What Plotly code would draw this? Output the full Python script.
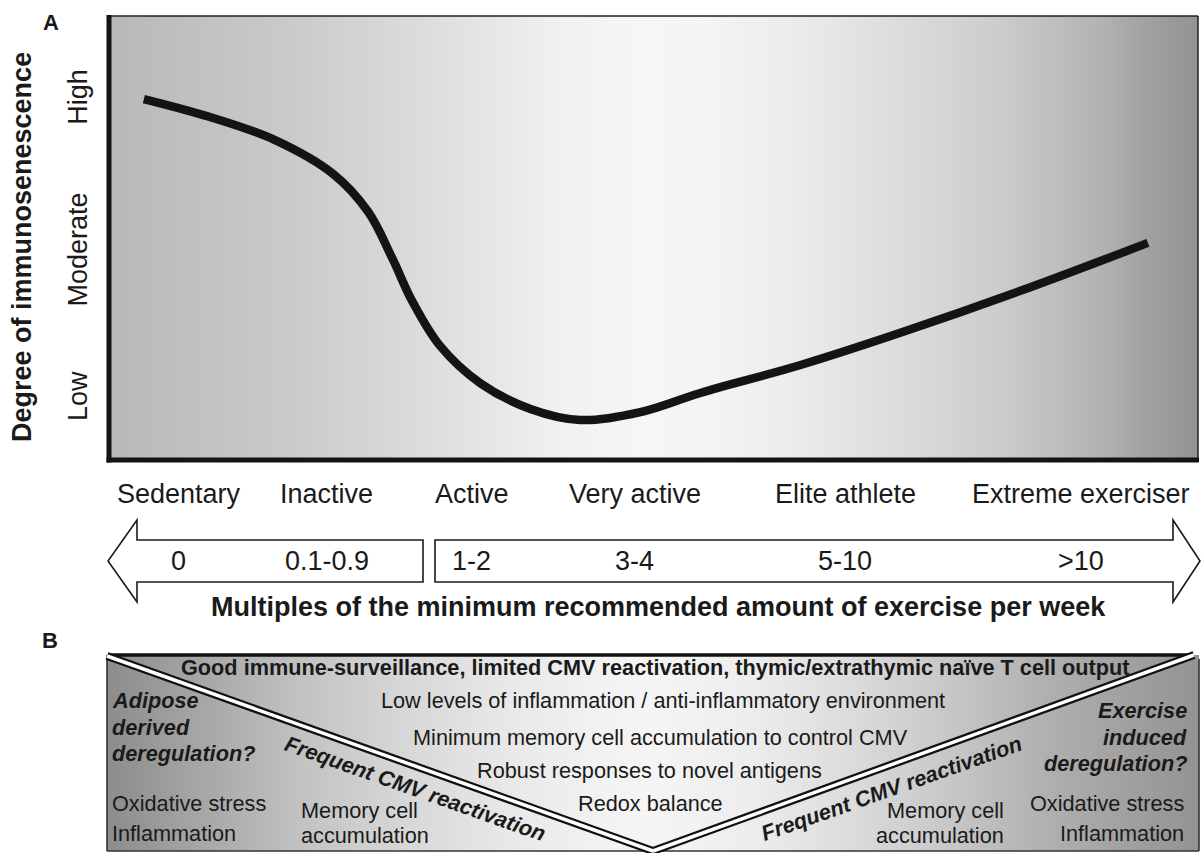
import plotly.graph_objects as go

W, H = 1202, 853

# ---------------- data ----------------
activity_levels = ["Sedentary", "Inactive", "Active", "Very active", "Elite athlete", "Extreme exerciser"]
exercise_multiples = ["0", "0.1-0.9", "1-2", "3-4", "5-10", ">10"]
activity_x = [6.4, 20.0, 33.3, 48.3, 67.6, 89.3]

senescence_labels = ["Low", "Moderate", "High"]
senescence_vals = [14.4, 47.4, 81.8]

curve_x = [3.2, 9.2, 15.2, 20.6, 23.8, 26.0, 27.8, 30.4, 34.1, 38.7, 43.3, 48.8, 54.3, 63.5, 72.6, 83.7, 95.4]
curve_y = [81.3, 77.3, 72.1, 64.4, 55.9, 45.5, 36.0, 25.7, 17.3, 11.5, 9.0, 10.8, 15.1, 21.4, 28.6, 38.1, 48.9]

b_header = "Good immune-surveillance, limited CMV reactivation, thymic/extrathymic naïve T cell output"
b_center_lines = ["Low levels of inflammation / anti-inflammatory environment",
                  "Minimum memory cell accumulation to control CMV",
                  "Robust responses to novel antigens",
                  "Redox balance"]
b_left_question = ["Adipose", "derived", "deregulation?"]
b_right_question = ["Exercise", "induced", "deregulation?"]
b_effects = ["Oxidative stress", "Inflammation"]
b_memory = ["Memory cell", "accumulation"]
b_reactivation = "Frequent CMV reactivation"

FONT = "Liberation Sans, Arial, sans-serif"
FA = 27      # panel A text size
FB = 21.7    # panel B text size

# ---------------- layout geometry (pixels) ----------------
AX0, AX1 = 109, 1198      # panel A box x
AY0, AY1 = 16, 460        # panel A box y (top, bottom)
BX0, BX1 = 107, 1199
BY0, BY1 = 655, 851
VX, VY = 653, 851

fig = go.Figure()

# panel A gradient background (data axes)
fig.add_trace(go.Scatter(
    x=[0, 100, 100, 0, 0], y=[0, 0, 100, 100, 0], mode="lines", fill="toself",
    line=dict(width=0, color="rgba(0,0,0,0)"),
    fillgradient=dict(type="horizontal", colorscale=[
        [0.0, "#b8b8b8"], [0.175, "#cbcbcb"], [0.313, "#e0e0e0"], [0.414, "#f1f1f1"],
        [0.49, "#f6f6f6"], [0.55, "#f4f4f4"], [0.634, "#ebebeb"], [0.726, "#dcdcdc"],
        [0.818, "#cccccc"], [0.91, "#b3b3b3"], [0.956, "#a0a0a0"], [1.0, "#939393"]]),
    hoverinfo="skip", showlegend=False, xaxis="x", yaxis="y"))

# curve
fig.add_trace(go.Scatter(
    x=curve_x, y=curve_y, mode="lines",
    line=dict(color="#141414", width=8.5, shape="spline", smoothing=1.0),
    hoverinfo="skip", showlegend=False, xaxis="x", yaxis="y"))

# panel B gradient (pixel overlay axes)
fig.add_trace(go.Scatter(
    x=[BX0, BX1, BX1, BX0, BX0], y=[BY0, BY0, BY1, BY1, BY0], mode="lines", fill="toself",
    line=dict(width=0, color="rgba(0,0,0,0)"),
    fillgradient=dict(type="horizontal", colorscale=[
        [0.0, "#8c8c8c"], [0.085, "#a6a6a6"], [0.177, "#c2c2c2"], [0.268, "#d6d6d6"],
        [0.36, "#e7e7e7"], [0.451, "#f2f2f2"], [0.497, "#f5f5f5"], [0.589, "#ededed"],
        [0.68, "#dcdcdc"], [0.772, "#c7c7c7"], [0.864, "#afafaf"], [1.0, "#939393"]]),
    hoverinfo="skip", showlegend=False, xaxis="x2", yaxis="y2"))

shapes = []
def pline(x0, y0, x1, y1, color, width):
    shapes.append(dict(type="line", xref="x2", yref="y2", x0=x0, y0=y0, x1=x1, y1=y1,
                       line=dict(color=color, width=width)))

# panel A frame
pline(AX0, AY0, AX1, AY0, "#222", 1.5)
pline(AX1, AY0, AX1, AY1, "#222", 1.5)
pline(AX0, AY0 - 1, AX0, AY1 + 2.5, "#141414", 5)
pline(AX0 - 2.5, AY1, AX1 + 1, AY1, "#141414", 5)

# arrows
shapes.append(dict(type="path", xref="x2", yref="y2",
                   path="M 423,540 L 137,540 L 137,520 L 108,561 L 137,602 L 137,582 L 423,582 Z",
                   fillcolor="white", line=dict(color="#1a1a1a", width=1.6)))
shapes.append(dict(type="path", xref="x2", yref="y2",
                   path="M 435,540 L 1173,540 L 1173,520 L 1200,561 L 1173,602 L 1173,582 L 435,582 Z",
                   fillcolor="white", line=dict(color="#1a1a1a", width=1.6)))

# panel B frame
pline(BX0, BY0, BX0, BY1, "#333", 1.6)
pline(BX1, BY0 + 4, BX1, BY1, "#333", 1.6)
pline(BX0, BY1, BX1, BY1, "#333", 1.6)
pline(BX0 + 4, BY0, 1190, BY0, "#111", 3.5)
# V double lines
vlines = [(BX0, BY0 + 1, VX, VY), (VX, VY, 1194, BY0)]
for (x0, y0, x1, y1) in vlines:
    pline(x0, y0, x1, y1, "#111", 8)
for (x0, y0, x1, y1) in vlines:
    pline(x0, y0, x1, y1, "white", 3.5)

ann = []
def txt(x, y, s, size, bold=False, italic=False, xanchor="center", angle=0, xref="x2", yref="y2", color="#1a1a1a"):
    t = s
    if bold:
        t = "<b>" + t + "</b>"
    if italic:
        t = "<i>" + t + "</i>"
    ann.append(dict(x=x, y=y, xref=xref, yref=yref, text=t, showarrow=False,
                    xanchor=xanchor, yanchor="middle", textangle=angle,
                    font=dict(family=FONT, size=size, color=color)))

# panel A labels
txt(51, 22, "A", 22, bold=True)
txt(22, 247, "Degree of immunosenescence", FA, bold=True, angle=-90)
for lab, v in zip(senescence_labels, senescence_vals):
    txt(78, v, lab, FA, angle=-90, yref="y")
for lab, num, xv in zip(activity_levels, exercise_multiples, activity_x):
    txt(xv, 494, lab, FA, xref="x")
    txt(xv, 561, num, FA, xref="x")
txt(658, 607, "Multiples of the minimum recommended amount of exercise per week", FA, bold=True)

# panel B labels
txt(50, 640, "B", 22, bold=True)
txt(655, 667, b_header, FB, bold=True)
for s, y, x in zip(b_center_lines, [700, 737, 770, 803], [663, 660, 649, 650]):
    txt(x, y, s, FB)
for s, y in zip(b_left_question, [700, 727, 753]):
    txt(110, y, s, FB, bold=True, italic=True, xanchor="left")
for s, y in zip(b_right_question, [710, 737, 763]):
    txt(1189, y, s, FB, bold=True, italic=True, xanchor="right")
for s, y in zip(b_effects, [803, 833]):
    txt(110, y, s, FB, xanchor="left")
    txt(1186, y, s, FB, xanchor="right")
for s, y in zip(b_memory, [810, 835]):
    txt(299, y, s, FB, xanchor="left")
    txt(1006, y, s, FB, xanchor="right")
txt(415, 788, b_reactivation, FB, bold=True, italic=True, angle=19.5)
txt(891, 788, b_reactivation, FB, bold=True, italic=True, angle=-19.5)

fig.update_layout(
    width=W, height=H, margin=dict(l=0, r=0, t=0, b=0),
    paper_bgcolor="white", plot_bgcolor="rgba(0,0,0,0)",
    xaxis=dict(domain=[AX0 / W, AX1 / W], range=[0, 100], visible=False, fixedrange=True),
    yaxis=dict(domain=[1 - AY1 / H, 1 - AY0 / H], range=[0, 100], visible=False, fixedrange=True),
    xaxis2=dict(domain=[0, 1], range=[0, W], visible=False, anchor="y2", fixedrange=True),
    yaxis2=dict(domain=[0, 1], range=[H, 0], visible=False, anchor="x2", fixedrange=True),
    shapes=shapes, annotations=ann, showlegend=False,
)

fig.write_html("out.html", config={"displayModeBar": False},
               post_script="document.body.style.margin='0';document.body.style.overflow='hidden';")
